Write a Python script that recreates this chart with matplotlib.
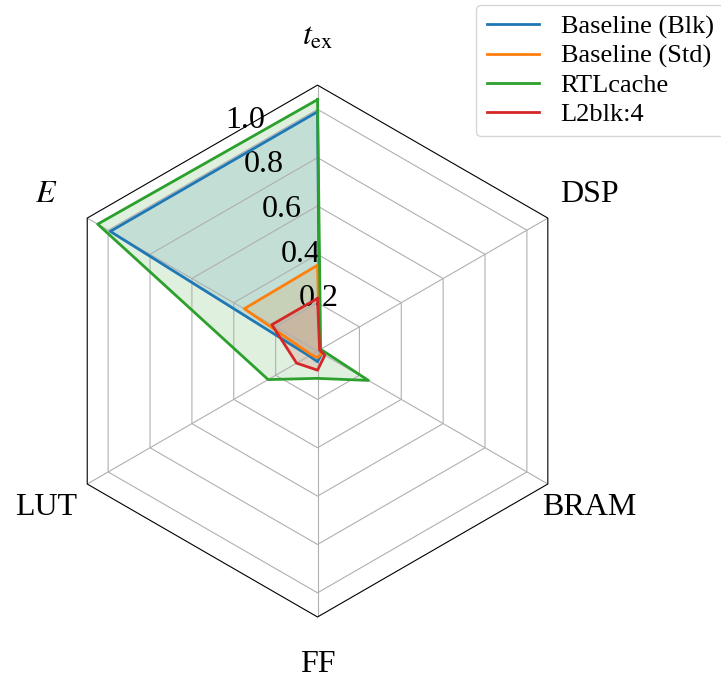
import numpy as np
import matplotlib
matplotlib.use('Agg')
import matplotlib.pyplot as plt
from matplotlib.patches import RegularPolygon
from matplotlib.path import Path
from matplotlib.projections import register_projection
from matplotlib.projections.polar import PolarAxes
from matplotlib.spines import Spine
from matplotlib.transforms import Affine2D, ScaledTranslation

# axes (counterclockwise from the top)
labels = [r'$t_{\mathrm{ex}}$', r'$E$', 'LUT', 'FF', 'BRAM', 'DSP']
series_names = ['Baseline (Blk)', 'Baseline (Std)', 'RTLcache', 'L2blk:4']

# normalised values, same order as labels
baseline_blk = [0.99, 0.99, 0.04, 0.044, 0.02, 0.01]
baseline_std = [0.355, 0.35, 0.03, 0.027, 0.02, 0.01]
rtlcache = [1.04, 1.05, 0.236, 0.113, 0.243, 0.015]
l2blk4 = [0.218, 0.218, 0.10, 0.079, 0.035, 0.01]

rgrid = [0.2, 0.4, 0.6, 0.8, 1.0]
colors = ['C0', 'C1', 'C2', 'C3']


def radar_factory(num_vars):
    """polar axes with a polygon frame (after the matplotlib gallery example)"""
    theta = np.linspace(0, 2 * np.pi, num_vars, endpoint=False)

    class RadarTransform(PolarAxes.PolarTransform):
        def transform_path_non_affine(self, path):
            # grid circles become polygons
            if path._interpolation_steps > 1:
                path = path.interpolated(num_vars)
            return Path(self.transform(path.vertices), path.codes)

    class RadarAxes(PolarAxes):
        name = 'radar'
        PolarTransform = RadarTransform

        def __init__(self, *args, **kwargs):
            super().__init__(*args, **kwargs)
            self.set_theta_zero_location('N')

        def fill(self, *args, closed=True, **kwargs):
            return super().fill(closed=closed, *args, **kwargs)

        def plot(self, *args, **kwargs):
            lines = super().plot(*args, **kwargs)
            for line in lines:
                x, y = line.get_data()
                if x[0] != x[-1]:
                    line.set_data(np.append(x, x[0]), np.append(y, y[0]))
            return lines

        def set_varlabels(self, labels, **kw):
            self.set_thetagrids(np.degrees(theta), labels, **kw)

        def _gen_axes_patch(self):
            return RegularPolygon((0.5, 0.5), num_vars, radius=.5, edgecolor='k')

        def _gen_axes_spines(self):
            spine = Spine(axes=self, spine_type='circle',
                          path=Path.unit_regular_polygon(num_vars))
            spine.set_transform(Affine2D().scale(.5).translate(.5, .5)
                                + self.transAxes)
            return {'polar': spine}

    register_projection(RadarAxes)
    return theta


plt.rcParams['font.family'] = 'serif'
plt.rcParams['font.serif'] = ['Liberation Serif', 'DejaVu Serif']
plt.rcParams['mathtext.fontset'] = 'stix'

theta = radar_factory(len(labels))

fig = plt.figure(figsize=(7.21, 6.81), dpi=100)
ax = fig.add_axes([0.0714, 0.094, 0.738, 0.781], projection='radar')

data = [baseline_blk, baseline_std, rtlcache, l2blk4]
for d, name, c in zip(data, series_names, colors):
    ax.plot(theta, d, color=c, lw=2, label=name)
    ax.fill(theta, d, facecolor=c, alpha=0.15)

ax.set_ylim(0, 1.1)
ax.set_rgrids(rgrid, fontsize=23)
ax.set_varlabels(labels, fontsize=23)
ax.tick_params(axis='x', pad=24)

fig.legend(loc='upper right', bbox_to_anchor=(1.008, 0.997), fontsize=19,
           borderaxespad=0.1, labelspacing=0.2)

# push the radial labels down a little
fig.canvas.draw()
shift = ScaledTranslation(0, -7 / 100, fig.dpi_scale_trans)
for tick in ax.yaxis.get_major_ticks():
    tick.label1.set_transform(tick.label1.get_transform() + shift)

fig.savefig('out.png', dpi=100)
